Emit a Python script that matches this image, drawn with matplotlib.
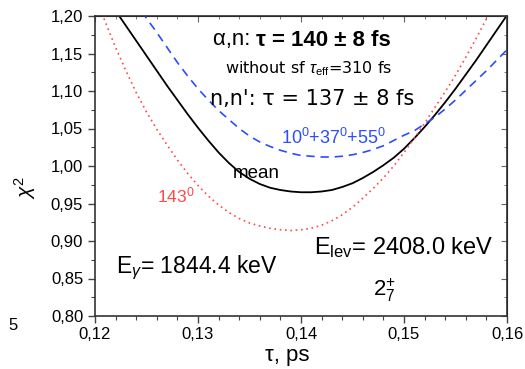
import matplotlib
matplotlib.use("Agg")
import matplotlib.pyplot as plt
from matplotlib.ticker import MultipleLocator, FuncFormatter

plt.rcParams['font.family'] = ['Liberation Sans', 'DejaVu Sans']
plt.rcParams['mathtext.fontset'] = 'custom'
plt.rcParams['mathtext.rm'] = 'Liberation Sans'
plt.rcParams['mathtext.it'] = 'Liberation Sans:italic'
plt.rcParams['mathtext.bf'] = 'Liberation Sans:bold'

# ---- data ----
tau_mean = [0.1220, 0.1225, 0.1230, 0.1240, 0.1250, 0.1260, 0.1270, 0.1280, 0.1290, 0.1300,
            0.1310, 0.1320, 0.1330, 0.1340, 0.1350, 0.1360, 0.1370, 0.1380, 0.1390, 0.1400,
            0.1410, 0.1420, 0.1430, 0.1440, 0.1450, 0.1460, 0.1470, 0.1480, 0.1490, 0.1500,
            0.1510, 0.1520, 0.1530, 0.1540, 0.1550, 0.1560, 0.1570, 0.1580, 0.1590, 0.1600]
chi_mean = [1.207, 1.197, 1.187, 1.167, 1.147, 1.127, 1.107, 1.088, 1.069, 1.051,
            1.034, 1.018, 1.004, 0.992, 0.983, 0.976, 0.971, 0.968, 0.966, 0.965,
            0.965, 0.966, 0.968, 0.972, 0.977, 0.984, 0.992, 1.001, 1.011, 1.023,
            1.037, 1.052, 1.068, 1.085, 1.103, 1.122, 1.141, 1.161, 1.181, 1.201]

tau_143 = [0.1205, 0.1210, 0.1220, 0.1230, 0.1240, 0.1250, 0.1260, 0.1270, 0.1280, 0.1290,
           0.1300, 0.1310, 0.1320, 0.1330, 0.1340, 0.1350, 0.1360, 0.1370, 0.1380, 0.1390,
           0.1400, 0.1410, 0.1420, 0.1430, 0.1440, 0.1450, 0.1460, 0.1470, 0.1480, 0.1490,
           0.1500, 0.1510, 0.1520, 0.1530, 0.1540, 0.1550, 0.1560, 0.1570, 0.1580, 0.1590]
chi_143 = [1.210, 1.192, 1.158, 1.127, 1.098, 1.072, 1.049, 1.028, 1.008, 0.990,
           0.974, 0.960, 0.948, 0.938, 0.930, 0.924, 0.920, 0.917, 0.915, 0.914,
           0.915, 0.917, 0.921, 0.927, 0.935, 0.945, 0.957, 0.970, 0.984, 1.000,
           1.018, 1.037, 1.057, 1.078, 1.099, 1.121, 1.145, 1.170, 1.196, 1.222]

tau_sum = [0.1245, 0.1250, 0.1260, 0.1270, 0.1280, 0.1290, 0.1300, 0.1310, 0.1320, 0.1330,
           0.1340, 0.1350, 0.1360, 0.1370, 0.1380, 0.1390, 0.1400, 0.1410, 0.1420, 0.1430,
           0.1440, 0.1450, 0.1460, 0.1470, 0.1480, 0.1490, 0.1500, 0.1510, 0.1520, 0.1530,
           0.1540, 0.1550, 0.1560, 0.1570, 0.1580, 0.1590, 0.1600]
chi_sum = [1.206, 1.197, 1.178, 1.158, 1.138, 1.120, 1.103, 1.088, 1.074, 1.062,
           1.050, 1.040, 1.032, 1.026, 1.021, 1.017, 1.014, 1.013, 1.012, 1.012,
           1.013, 1.015, 1.018, 1.022, 1.027, 1.034, 1.041, 1.047, 1.056, 1.065,
           1.076, 1.088, 1.101, 1.114, 1.127, 1.141, 1.155]

x_ticks = [0.12, 0.13, 0.14, 0.15, 0.16]
y_ticks = [0.80, 0.85, 0.90, 0.95, 1.00, 1.05, 1.10, 1.15, 1.20]

RED = '#ff4848'
BLUE = '#2c4cff'

fig = plt.figure(figsize=(5.25, 3.69), dpi=100)
ax = fig.add_axes([95/525, 1-316/369, 412/525, 300/369])

ax.plot(tau_mean, chi_mean, color='black', lw=1.3, solid_capstyle='butt')
ax.plot(tau_143, chi_143, color=RED, lw=1.2, linestyle=(0, (1, 2.2)))
ax.plot(tau_sum, chi_sum, color=BLUE, lw=1.2, linestyle=(0, (5, 3.5)))

ax.set_xlim(0.12, 0.16)
ax.set_ylim(0.80, 1.20)
ax.set_xticks(x_ticks)
ax.set_yticks(y_ticks)
ax.xaxis.set_minor_locator(MultipleLocator(0.002))
ax.yaxis.set_minor_locator(MultipleLocator(0.025))
fmt = FuncFormatter(lambda v, p: f"{v:.2f}".replace('.', ','))
ax.xaxis.set_major_formatter(fmt)
ax.yaxis.set_major_formatter(fmt)
ax.tick_params(axis='both', which='major', labelsize=12, length=5, width=1.0, color='#444444', direction='out')
ax.tick_params(axis='both', which='minor', length=3, width=0.8, color='#444444', direction='out')
ax.tick_params(axis='x', pad=3)
for s in ax.spines.values():
    s.set_color('#333333')
    s.set_linewidth(1.2)

# mirrored inward ticks on top/right
axt = ax.secondary_xaxis('top')
axt.set_xticks(x_ticks)
axt.xaxis.set_minor_locator(MultipleLocator(0.002))
axt.tick_params(which='major', direction='in', length=4, color='#666666', labeltop=False)
axt.tick_params(which='minor', direction='in', length=2.5, color='#666666')
axt.set_xticklabels([])
axr = ax.secondary_yaxis('right')
axr.set_yticks(y_ticks)
axr.yaxis.set_minor_locator(MultipleLocator(0.025))
axr.tick_params(which='major', direction='in', length=4, color='#666666')
axr.tick_params(which='minor', direction='in', length=2.5, color='#666666')
axr.set_yticklabels([])

def ax_xy(px, py):
    return ((px - 95) / 412, (316 - py) / 300)

# annotations
tr = ax.transAxes
t1 = ax.text(*ax_xy(213, 40), 'α,n: ', ha='left', va='center', fontsize=16, transform=tr)
ax.annotate('τ = 140 ± 8 fs', xy=(1, 0.5), xycoords=t1, ha='left', va='center',
            fontsize=16, fontweight='bold')
ax.text(*ax_xy(309, 69), r'without sf $\tau_{\mathrm{eff}}$=310 fs', ha='center', va='center',
        fontsize=11.5, family='DejaVu Sans', transform=tr)
ax.text(*ax_xy(312, 99), "n,n': τ = 137 ± 8 fs", ha='center', va='center', fontsize=15,
        family='DejaVu Sans', transform=tr)
ax.text(*ax_xy(334, 138), r'10$^0$+37$^0$+55$^0$', ha='center', va='center', fontsize=13,
        color=BLUE, transform=tr)
ax.text(*ax_xy(256, 173), 'mean', ha='center', va='center', fontsize=13.5, transform=tr)
ax.text(*ax_xy(176, 195), r'143$^0$', ha='center', va='center', fontsize=12.5, color=RED, transform=tr)
ax.text(*ax_xy(116, 268), r'E$_\gamma$= 1844.4 keV', ha='left', va='center', fontsize=16.5, transform=tr)
ax.text(*ax_xy(314, 248), r'E$_{\mathrm{lev}}$= 2408.0 keV', ha='left', va='center', fontsize=17, transform=tr)
ax.text(*ax_xy(384, 290), r'2$^{+}_{7}$', ha='center', va='center', fontsize=16, transform=tr)

fig.text(25/525, 1-187/369, r'$\chi^2$', rotation=90, ha='center', va='center', fontsize=15)
fig.text(287/525, 1-356/369, 'τ, ps', ha='center', va='center', fontsize=16)
fig.text(8/525, 1-326/369, '5', ha='left', va='center', fontsize=12)

fig.savefig('out.png', dpi=100)
